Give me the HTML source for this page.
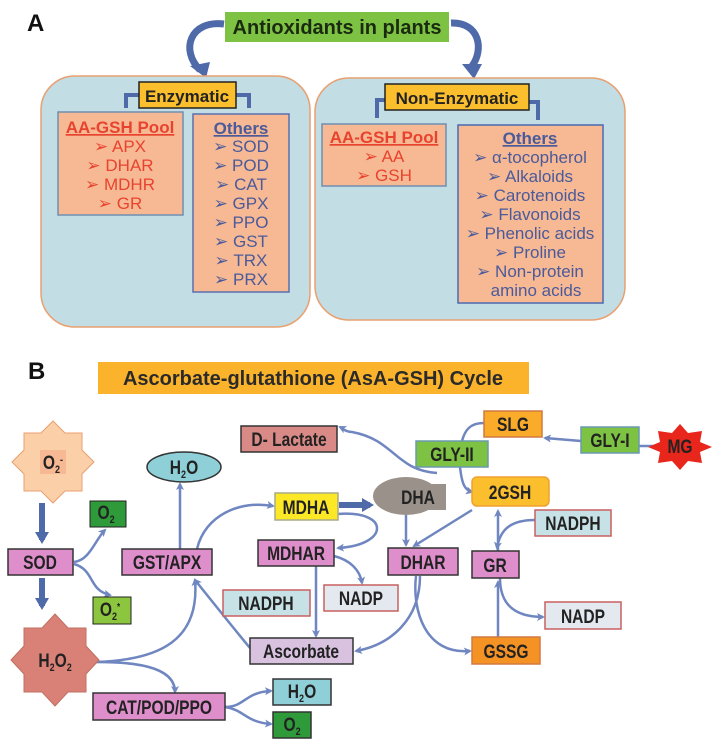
<!DOCTYPE html>
<html><head><meta charset="utf-8"><style>
body{margin:0;background:#fff}
svg{display:block}
.a{font-family:"Liberation Sans",sans-serif;font-size:17px;text-anchor:middle}
.r{fill:#e8432e}.b{fill:#4a5a9a}
.n text,text.n{font-family:"Liberation Sans Narrow","Liberation Sans",sans-serif;font-weight:bold;font-size:19px;text-anchor:middle;fill:#222;transform-box:fill-box;transform-origin:center;transform:scaleX(0.82)}
.ln{fill:none;stroke:#6f86c0;stroke-width:2.5}
</style></head><body>
<svg width="719" height="746" viewBox="0 0 719 746" xmlns="http://www.w3.org/2000/svg">
<defs>
<marker id="ar" markerWidth="8" markerHeight="8" refX="6" refY="4" orient="auto" markerUnits="userSpaceOnUse"><path d="M0,0 L8,4 L0,8 L2,4 z" fill="#6f86c0"/></marker>
<marker id="ab" markerWidth="14" markerHeight="14" refX="8" refY="7" orient="auto" markerUnits="userSpaceOnUse"><path d="M0,0 L12,7 L0,14 z" fill="#4f6aa8"/></marker>
</defs>
<!-- Part A -->
<text x="27" y="31" font-family="Liberation Sans" font-weight="bold" font-size="24" fill="#111">A</text>
<rect x="225" y="12" width="224" height="30" fill="#7dc243"/>
<text x="337" y="34" font-family="Liberation Sans" font-weight="bold" font-size="20" text-anchor="middle" fill="#1a2a10">Antioxidants in plants</text>
<path d="M224,24 C190,20 180,50 200,70" fill="none" stroke="#4f6aa8" stroke-width="7"/>
<path d="M190,66 L206,78 L210,62 z" fill="#4f6aa8"/>
<path d="M451,23 C480,22 484,50 472,66" fill="none" stroke="#4f6aa8" stroke-width="7"/>
<path d="M462,64 L474,79 L482,64 z" fill="#4f6aa8"/>
<rect x="41" y="76" width="269" height="251" rx="34" fill="#c3dde4" stroke="#e8a070" stroke-width="1.5"/>
<rect x="315" y="78" width="310" height="242" rx="34" fill="#c3dde4" stroke="#e8a070" stroke-width="1.5"/>
<path d="M139,95 L126,95 L126,108" fill="none" stroke="#4f6aa8" stroke-width="4"/>
<path d="M236,95 L249,95 L249,108" fill="none" stroke="#4f6aa8" stroke-width="4"/>
<path d="M385,100 L377,100 L377,118" fill="none" stroke="#4f6aa8" stroke-width="4"/>
<path d="M529,102 L538,102 L538,120" fill="none" stroke="#4f6aa8" stroke-width="4"/>
<rect x="139" y="82" width="97" height="26" fill="#fbbf2e" stroke="#222" stroke-width="1.5"/>
<text x="187" y="102" font-family="Liberation Sans" font-weight="bold" font-size="17" text-anchor="middle" fill="#222">Enzymatic</text>
<rect x="385" y="84" width="144" height="26" fill="#fbbf2e" stroke="#222" stroke-width="1.5"/>
<text x="457" y="104" font-family="Liberation Sans" font-weight="bold" font-size="17" text-anchor="middle" fill="#222">Non-Enzymatic</text>
<rect x="58" y="112" width="125" height="103" fill="#f7b994" stroke="#6f8fb0" stroke-width="1.5"/>
<g class="a r"><text x="120" y="133" font-weight="bold" text-decoration="underline">AA-GSH Pool</text>
<text x="120" y="152">➢ APX</text><text x="120" y="171">➢ DHAR</text><text x="120" y="190">➢ MDHR</text><text x="120" y="209">➢ GR</text></g>
<rect x="193" y="114" width="96" height="178" fill="#f7b994" stroke="#5a6fb0" stroke-width="1.5"/>
<g class="a b"><text x="241" y="134" font-weight="bold" text-decoration="underline">Others</text>
<text x="241" y="152">➢ SOD</text><text x="241" y="171">➢ POD</text><text x="241" y="190">➢ CAT</text><text x="241" y="209">➢ GPX</text><text x="241" y="228">➢ PPO</text><text x="241" y="247">➢ GST</text><text x="241" y="266">➢ TRX</text><text x="241" y="285">➢ PRX</text></g>
<rect x="322" y="124" width="124" height="62" fill="#f7b994" stroke="#6f8fb0" stroke-width="1.5"/>
<g class="a r"><text x="384" y="143" font-weight="bold" text-decoration="underline">AA-GSH Pool</text>
<text x="384" y="162">➢ AA</text><text x="384" y="181">➢ GSH</text></g>
<rect x="458" y="125" width="145" height="178" fill="#f7b994" stroke="#4a6ab0" stroke-width="1.5"/>
<g class="a b"><text x="530" y="144" font-weight="bold" text-decoration="underline">Others</text>
<text x="530" y="163">➢ α-tocopherol</text><text x="530" y="182">➢ Alkaloids</text><text x="530" y="201">➢ Carotenoids</text><text x="530" y="220">➢ Flavonoids</text><text x="530" y="239">➢ Phenolic acids</text><text x="530" y="258">➢ Proline</text><text x="530" y="277">➢ Non-protein</text><text x="536" y="296">amino acids</text></g>
<!-- Part B -->
<text x="28" y="379" font-family="Liberation Sans" font-weight="bold" font-size="24" fill="#111">B</text>
<rect x="98" y="362" width="431" height="32" fill="#fbb32b"/>
<text x="313" y="385" font-family="Liberation Sans" font-weight="bold" font-size="20" text-anchor="middle" fill="#2a2a2a">Ascorbate-glutathione (AsA-GSH) Cycle</text>
<!-- connectors -->
<g class="ln">
<path d="M42,578 L42,606" stroke="#4f6aa8" stroke-width="6" marker-end="url(#ab)"/>
<path d="M42,503 L42,540" stroke="#4f6aa8" stroke-width="6" marker-end="url(#ab)"/>
<path d="M74,562 C90,560 95,540 105,530" marker-end="url(#ar)"/>
<path d="M74,564 C95,570 88,590 110,595" marker-end="url(#ar)"/>
<path d="M180,549 L180,484" marker-end="url(#ar)"/>
<path d="M197,549 C205,515 240,500 273,506" marker-end="url(#ar)"/>
<path d="M96,662 C160,660 200,640 195,580" marker-end="url(#ar)"/>
<path d="M96,662 C130,662 175,665 175,692" marker-end="url(#ar)"/>
<path d="M250,648 C235,630 215,605 195,580" marker-end="url(#ar)"/>
<path d="M225,707 C245,707 245,692 271,691" marker-end="url(#ar)"/>
<path d="M225,707 C245,710 245,722 271,724" marker-end="url(#ar)"/>
<path d="M316,540 L316,636" marker-end="url(#ar)"/>
<path d="M334,556 C350,560 360,570 362,583" marker-end="url(#ar)"/>
<path d="M338,514 C390,510 390,545 338,548" marker-end="url(#ar)"/>
<path d="M339,505 L370,505" stroke="#4f6aa8" stroke-width="6" marker-end="url(#ab)"/>
<path d="M406,515 L406,545" marker-end="url(#ar)"/>
<path d="M472,510 L414,546" marker-end="url(#ar)"/>
<path d="M420,576 C420,620 390,645 356,651" marker-end="url(#ar)"/>
<path d="M416,576 C412,610 425,655 470,651" marker-end="url(#ar)"/>
<path d="M498,637 L498,582" marker-end="url(#ar)"/>
<path d="M498,551 L498,511" marker-end="url(#ar)"/>
<path d="M535,520 C510,520 500,530 497,548" marker-end="url(#ar)"/>
<path d="M500,578 C500,605 515,617 543,617" marker-end="url(#ar)"/>
<path d="M437,473 C395,470 395,440 352,432 C345,432 342,428 340,427" marker-end="url(#ar)"/>
<path d="M484,423 C470,423 465,430 462,441"/>
<path d="M460,467 C462,485 465,490 472,492" marker-end="url(#ar)"/>
<path d="M581,441 L545,438" marker-end="url(#ar)"/>
<path d="M639,446 L655,446"/>
</g>
<!-- nodes -->
<polygon points="53,421 65,433 82,433 82,450 94,462 82,474 82,491 65,491 53,503 41,491 24,491 24,474 12,462 24,450 24,433 41,433" fill="#fbcfa8" stroke="#e8a070"/>
<rect x="40" y="450" width="26" height="24" fill="#f7b994"/>
<text x="53" y="469" class="n">O<tspan font-size="11" dy="4">2</tspan><tspan font-size="11" dy="-10">-</tspan></text>
<polygon points="55,614 68,628 86,628 86,646 99,660 86,674 86,692 68,692 55,706 42,692 24,692 24,674 11,660 24,646 24,628 42,628" fill="#d98077" stroke="#c07060"/>
<text x="55" y="667" class="n">H<tspan font-size="11" dy="4">2</tspan><tspan dy="-4">O</tspan><tspan font-size="11" dy="4">2</tspan></text>
<polygon points="680,424 688,433 702,431 700,442 712,447 700,452 702,463 688,461 680,470 672,461 658,463 660,452 648,447 660,442 658,431 672,433" fill="#e8261c"/>
<text x="680" y="453" class="n" font-size="17">MG</text>
<rect x="90" y="501" width="36" height="26" fill="#2f9a3a" stroke="#222"/>
<text x="106" y="519" class="n">O<tspan font-size="11" dy="4">2</tspan></text>
<rect x="93" y="597" width="38" height="27" fill="#8cc63e" stroke="#222"/>
<text x="110" y="616" class="n">O<tspan font-size="11" dy="4">2</tspan><tspan font-size="10" dy="-10">*</tspan></text>
<g stroke="#333" stroke-width="1.5">
<rect x="8" y="549" width="65" height="26" fill="#de8ecb"/>
<rect x="122" y="549" width="90" height="26" fill="#de8ecb"/>
<rect x="258" y="540" width="76" height="26" fill="#de8ecb"/>
<rect x="388" y="548" width="70" height="27" fill="#de8ecb"/>
<rect x="472" y="551" width="47" height="27" fill="#de8ecb"/>
<rect x="93" y="693" width="132" height="27" fill="#de8ecb"/>
<rect x="250" y="638" width="103" height="26" fill="#d8c2df"/>
<rect x="241" y="426" width="96" height="26" fill="#d98a86"/>
<rect x="275" y="493" width="63" height="27" fill="#fde826" stroke="#aa8"/>
<rect x="273" y="679" width="58" height="26" fill="#8fd0d8"/>
<rect x="273" y="712" width="38" height="26" fill="#2f9a3a"/>
<ellipse cx="184" cy="467" rx="37" ry="15" fill="#8fd0d8"/>
</g>
<g stroke="#6a9ab0" stroke-width="1.5">
<rect x="484" y="411" width="58" height="26" fill="#fbab2a" stroke="#d07a40"/>
<rect x="416" y="441" width="72" height="26" fill="#7dc243"/>
<rect x="581" y="427" width="58" height="26" fill="#7dc243"/>
<rect x="472" y="477" width="77" height="29" rx="5" fill="#fbbf2e" stroke="#f0a030"/>
<rect x="545" y="602" width="76" height="27" fill="#e4e8ef" stroke="#c86060"/>
<rect x="535" y="510" width="76" height="26" fill="#c7e2e6" stroke="#c86060"/>
<rect x="324" y="585" width="74" height="26" fill="#e4e8ef" stroke="#c86060"/>
<rect x="223" y="590" width="87" height="26" fill="#c7e2e6" stroke="#c86060"/>
<rect x="472" y="637" width="68" height="27" fill="#f59224" stroke="#d07a40"/>
</g>
<ellipse cx="406" cy="496" rx="33" ry="19" fill="#9a918a"/>
<rect x="406" y="484" width="40" height="26" fill="#9a918a"/>
<g class="n">
<text x="40" y="569">SOD</text><text x="167" y="569">GST/APX</text><text x="296" y="560">MDHAR</text>
<text x="423" y="569">DHAR</text><text x="495" y="572">GR</text><text x="159" y="714">CAT/POD/PPO</text>
<text x="301" y="658">Ascorbate</text><text x="289" y="446">D- Lactate</text><text x="306" y="514">MDHA</text>
<text x="302" y="698">H<tspan font-size="11" dy="4">2</tspan><tspan dy="-4">O</tspan></text>
<text x="292" y="731">O<tspan font-size="11" dy="4">2</tspan></text>
<text x="184" y="474">H<tspan font-size="11" dy="4">2</tspan><tspan dy="-4">O</tspan></text>
<text x="513" y="431">SLG</text><text x="452" y="461">GLY-II</text><text x="610" y="447">GLY-I</text>
<text x="510" y="499">2GSH</text><text x="583" y="623">NADP</text><text x="573" y="530">NADPH</text>
<text x="361" y="605">NADP</text><text x="266" y="610">NADPH</text><text x="506" y="658">GSSG</text>
<text x="418" y="504">DHA</text>
</g>
</svg>
</body></html>
